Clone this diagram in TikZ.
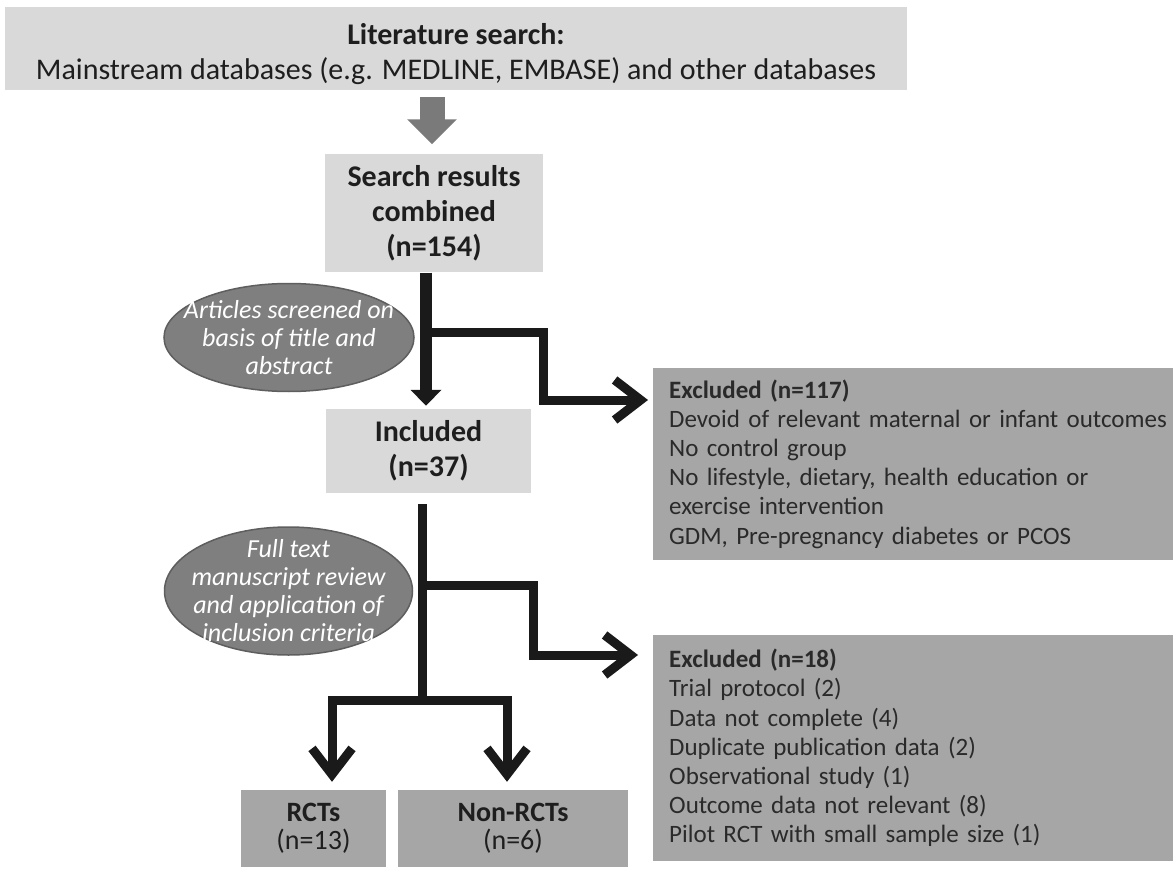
\documentclass[tikz,border=0pt]{standalone}
\usepackage{fontspec}
\setmainfont{Carlito}
\usetikzlibrary{arrows.meta}
\definecolor{lightbox}{HTML}{D9D9D9}
\definecolor{darkbox}{HTML}{A6A6A6}
\definecolor{ellfill}{HTML}{7F7F7F}
\definecolor{elledge}{HTML}{5E5E5E}
\definecolor{linecol}{HTML}{1A1A1A}
\definecolor{txt}{HTML}{1E1E1E}
\definecolor{listtxt}{HTML}{2A2A2A}
\definecolor{grayarrow}{HTML}{7A7A7A}
\hyphenpenalty=10000
\begin{document}
\begin{tikzpicture}[x=1pt,y=-1pt,
  lbox/.style={rectangle, fill=lightbox, inner sep=0pt, align=center, text=txt,
    font=\fontsize{30}{35}\selectfont},
  dbox/.style={rectangle, fill=darkbox, inner sep=0pt, align=center, text=txt,
    font=\fontsize{28}{28.5}\selectfont},
  exbox/.style={rectangle, fill=darkbox, inner xsep=16pt, inner ysep=0pt, align=left,
    text=listtxt, font=\fontsize{25}{29.2}\selectfont, anchor=west},
  ovalshape/.style={fill=ellfill, draw=elledge, line width=1.5pt},
  ovaltext/.style={inner sep=0pt, align=center, text=white,
    font=\fontsize{26}{28}\selectfont\itshape},
  conn/.style={draw=linecol, line width=9pt, line join=miter},
  barb/.style={-{Straight Barb[length=26pt,width=40pt]}},
]
\useasboundingbox (0,0) rectangle (1173,869);
\fill[white] (0,0) rectangle (1173,869);

% boxes
\node[lbox, minimum width=902pt, minimum height=83pt] (top) at (456,48.5)
  {\rule{0pt}{33pt}\textbf{Literature search:}\\Mainstream databases (e.g. MEDLINE, EMBASE) and other databases};
\node[lbox, minimum width=218pt, minimum height=118pt] (search) at (434,213.5)
  {\textbf{Search results}\\\textbf{combined}\\\textbf{(n=154)}};
\node[lbox, minimum width=205pt, minimum height=84pt] (inc) at (428.5,451)
  {\textbf{Included}\\\textbf{(n=37)}};
\node[exbox, minimum width=520pt, minimum height=192pt, text width=505pt] (exc1) at (653,464)
  {\textbf{Excluded (n=117)}\\Devoid of relevant maternal or infant outcomes\\No control group\\No lifestyle, dietary, health education or\\exercise intervention\\GDM, Pre-pregnancy diabetes or PCOS};
\node[exbox, minimum width=520pt, minimum height=226pt, text width=505pt] (exc2) at (653,748)
  {\textbf{Excluded (n=18)}\\Trial protocol (2)\\Data not complete (4)\\Duplicate publication data (2)\\Observational study (1)\\Outcome data not relevant (8)\\Pilot RCT with small sample size (1)};
\node[dbox, minimum width=145pt, minimum height=77pt] (rct) at (313.5,828.5)
  {\textbf{RCTs}\\(n=13)};
\node[dbox, minimum width=230pt, minimum height=77pt] (nrct) at (513,828.5)
  {\textbf{Non-RCTs}\\(n=6)};

% ellipses
\filldraw[ovalshape] (289,337.5) ellipse [x radius=125pt, y radius=54pt];
\node[ovaltext] (ell1) at (289,337.5)
  {Articles screened on\\basis of title and\\abstract};
\filldraw[ovalshape] (288.5,591) ellipse [x radius=124pt, y radius=64pt];
\node[ovaltext] (ell2) at (288.5,591)
  {Full text\\manuscript review\\and application of\\inclusion criteria};

% gray arrow
\coordinate (ga) at (432,97);
\draw[grayarrow, line width=25pt, -{Triangle[width=48pt,length=25pt]},
  shorten <=7pt, shorten >=10pt] (top.south -| ga) -- (search.north -| ga);

% main arrow
\coordinate (ma) at (426,300);
\draw[linecol, line width=12pt, -{Triangle[width=30pt,length=16pt]}, shorten >=3pt]
  (search.south -| ma) -- (inc.north -| ma);

% branch 1
\coordinate (b1) at (430,332);
\coordinate (c1) at (543,400);
\draw[conn, barb, shorten >=5pt] (b1) -| (c1) -- (exc1.west |- c1);

% lower trunk
\coordinate (j2) at (422,700);
\draw[conn, shorten <=11pt] (inc.south -| j2) -- (j2);

% branch 2
\coordinate (b2) at (424,585);
\coordinate (c2) at (533,655);
\draw[conn, barb, shorten >=15pt] (b2) -| (c2) -- (exc2.west |- c2);

% split
\coordinate (l1) at (332,700);
\coordinate (r1) at (507,700);
\draw[conn, {Straight Barb[length=26pt,width=40pt]}-{Straight Barb[length=26pt,width=40pt]},
  shorten <=8pt, shorten >=8pt]
  (rct.north -| l1) -- (l1) -- (r1) -- (nrct.north -| r1);
\end{tikzpicture}
\end{document}
